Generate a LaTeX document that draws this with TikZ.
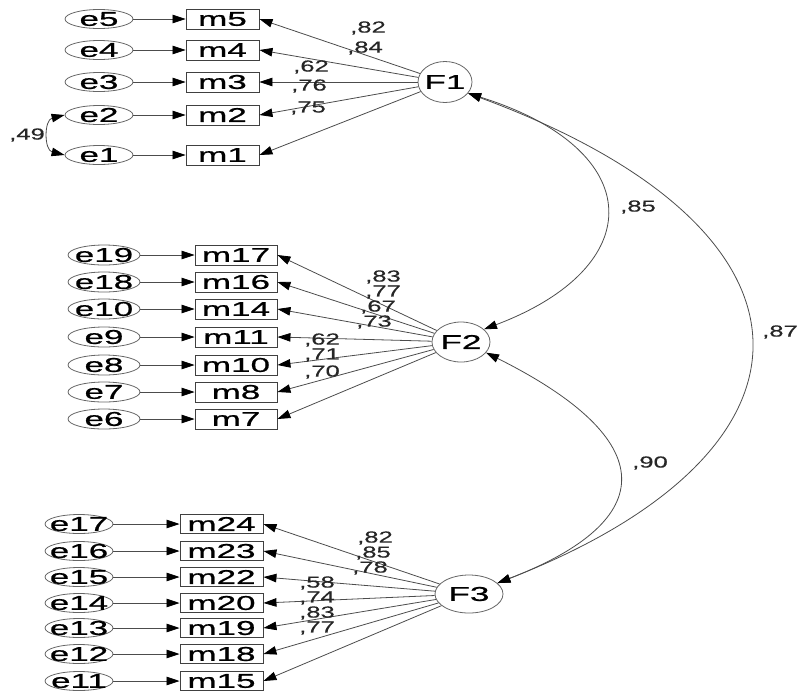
\documentclass[tikz,border=0pt]{standalone}
\usepackage{fontspec}
\newfontfamily\nfont[FakeStretch=1.75,FakeBold=0.8]{Liberation Sans}
\newfontfamily\lfont[FakeStretch=1.6,FakeBold=0.4]{Liberation Sans}
\usetikzlibrary{arrows.meta,shapes.geometric}
\begin{document}
\begin{tikzpicture}[x=1pt,y=-1pt,
  ntext/.style={font=\nfont\fontsize{20}{20}\selectfont, inner sep=0pt},
  lab/.style={font=\lfont\fontsize{16}{16}\selectfont, inner sep=0pt, text=black!85},
  evar/.style={ellipse, draw=black!60, line width=0.8pt, inner sep=0pt, minimum width=68pt, minimum height=19pt},
  lat/.style={ellipse, draw=black!60, line width=0.8pt, inner sep=0pt},
  obs/.style={rectangle, draw=black!75, line width=0.9pt, inner sep=0pt, minimum height=20pt, font=\nfont\fontsize{20}{20}\selectfont},
  tipa/.tip={Triangle[length=13pt,width=8.5pt,color=black]},
  pth/.style={draw=black!70, line width=0.8pt, -tipa},
  cov/.style={draw=black!70, line width=0.8pt, tipa-tipa}]
\useasboundingbox (0,0) rectangle (797,697);
% latent factors
\node[lat, minimum width=54pt, minimum height=41pt, label={[ntext]center:F1}] (F1) at (445,82) {};
\node[lat, minimum width=58pt, minimum height=40pt, label={[ntext]center:F2}] (F2) at (461,342) {};
\node[lat, minimum width=68pt, minimum height=38pt, label={[ntext]center:F3}] (F3) at (469,594) {};
% group 1
\foreach \e/\m/\y in {e5/m5/19, e4/m4/50, e3/m3/82, e2/m2/115, e1/m1/155} {
  \node[evar, label={[ntext]center:\e}] (\e) at (99,\y) {};
  \node[obs, minimum width=73pt] (\m) at (222.5,\y) {\m};
  \draw[pth] (\e) -- (\m);
  \draw[pth] (F1) -- (\m.east);
}
% group 2
\foreach \e/\m/\y in {e19/m17/255, e18/m16/282, e10/m14/309, e9/m11/337, e8/m10/365, e7/m8/392, e6/m7/419} {
  \node[evar, minimum width=72pt, minimum height=20pt, label={[ntext]center:\e}] (\e) at (104,\y) {};
  \node[obs, minimum width=82pt] (\m) at (236,\y) {\m};
  \draw[pth] (\e) -- (\m);
  \draw[pth] (F2) -- (\m.east);
}
% group 3
\foreach \e/\m/\y in {e17/m24/524, e16/m23/551, e15/m22/577, e14/m20/603, e13/m19/628, e12/m18/654, e11/m15/681} {
  \node[evar, minimum height=19pt, label={[ntext]center:\e}] (\e) at (79,\y) {};
  \node[obs, minimum width=83pt, minimum height=19pt] (\m) at (221.5,\y) {\m};
  \draw[pth] (\e) -- (\m);
  \draw[pth] (F3) -- (\m.east);
}
% error covariance
\draw[cov] (e2.west) .. controls (44,120) and (44,150) .. (e1.west);
\node[lab] (c49) at (27,135) {,49};
% factor covariances
\draw[cov] (F1.-26) .. controls (649,150) and (649,267) .. (F2.29);
\draw[cov] (F1.-26) .. controls (839,230) and (839,450) .. (F3.21);
\draw[cov] (F2.-23) .. controls (661,440) and (661,520) .. (F3.21);
\node[lab] (c85) at (638,207) {,85};
\node[lab] (c87) at (780,332) {,87};
\node[lab] (c90) at (650,463) {,90};
% loadings labels F1
\node[lab] (l1a) at (368,28) {,82};
\node[lab] (l1b) at (365,48) {,84};
\node[lab] (l1c) at (311,67) {,62};
\node[lab] (l1d) at (309,86) {,76};
\node[lab] (l1e) at (308,108) {,75};
% F2
\node[lab] (l2a) at (383,277) {,83};
\node[lab] (l2b) at (383,292) {,77};
\node[lab] (l2c) at (378,307) {,67};
\node[lab] (l2d) at (374,322) {,73};
\node[lab] (l2e) at (322,340) {,62};
\node[lab] (l2f) at (322,355) {,71};
\node[lab] (l2g) at (322,372) {,70};
% F3
\node[lab] (l3a) at (375,538) {,82};
\node[lab] (l3b) at (373,553) {,85};
\node[lab] (l3c) at (370,568) {,78};
\node[lab] (l3d) at (317,583) {,58};
\node[lab] (l3e) at (317,598) {,74};
\node[lab] (l3f) at (317,613) {,83};
\node[lab] (l3g) at (317,628) {,77};
\end{tikzpicture}
\end{document}
